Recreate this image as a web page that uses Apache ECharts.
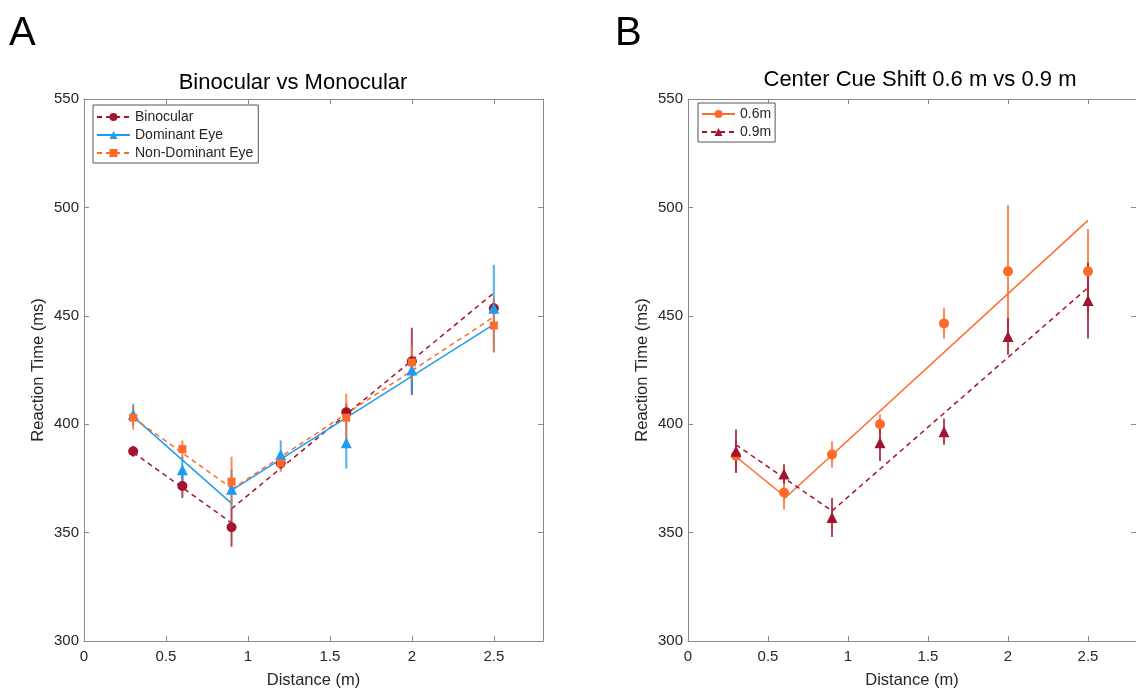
<!DOCTYPE html>
<html>
<head>
<meta charset="utf-8">
<script src="https://cdn.jsdelivr.net/npm/echarts@6/dist/echarts.min.js"></script>
<style>
html,body{margin:0;padding:0;background:#fff;}
#chart{width:1136px;height:694px;}
</style>
</head>
<body>
<div id="chart"></div>
<script>
// ---------- data ----------
const distances = [0.3, 0.6, 0.9, 1.2, 1.6, 2.0, 2.5];
const xTicks = [0, 0.5, 1, 1.5, 2, 2.5];
const yTicks = [300, 350, 400, 450, 500, 550];

// Panel A
const binocularMean = [387.5, 371.5, 352.5, 382, 405.5, 429, 453.5];
const binocularErr = [2.5, 5.5, 9, 3, 4, 15.5, 3];
const dominantMean = [404.5, 379, 370, 386, 391.5, 425, 453.5];
const dominantErr = [5, 6, 9, 6.5, 12, 11, 20];
const nonDominantMean = [403, 388.5, 373.5, 382, 403, 428.5, 445.5];
const nonDominantErr = [5.5, 4, 11.5, 4, 11, 8, 12.5];

// piecewise fit lines (left segment 0.3-0.9, right segment 0.9-2.5)
const fitLeftXA = [0.3, 0.9];
const fitRightXA = [0.9, 2.5];
const binocularFitLeft = [387, 354.5];
const binocularFitRight = [361, 460.5];
const dominantFitLeft = [403.5, 363.5];
const dominantFitRight = [369.5, 446];
const nonDominantFitLeft = [403, 370.5];
const nonDominantFitRight = [370, 449.5];

// Panel B
const shift06Mean = [385.5, 368.5, 386, 400, 446.5, 470.5, 470.5];
const shift06Err = [7, 8, 6, 4.5, 7, 30.5, 19.5];
const shift09Mean = [387.5, 377, 357, 391.5, 396.5, 440.5, 457];
const shift09Err = [10, 4.5, 9, 8.5, 6, 8.5, 17.5];

const fitLeftX06 = [0.3, 0.6];
const fitRightX06 = [0.6, 2.5];
const shift06FitLeft = [385, 367];
const shift06FitRight = [365.5, 494];
const fitLeftX09 = [0.3, 0.9];
const fitRightX09 = [0.9, 2.5];
const shift09FitLeft = [390.5, 360];
const shift09FitRight = [360, 463];

// ---------- styles ----------
const RED = '#A2142F';
const BLUE = '#1E9DF0';
const ORANGE = '#FF6A2B';
const AXIS = '#8a8a8a';
const TXT = '#262626';
const FONT = 'Liberation Sans, Arial, sans-serif';

function pairs(xs, ys) { return xs.map((x, i) => [x, ys[i]]); }
function errData(xs, m, e) { return xs.map((x, i) => [x, m[i] - e[i], m[i] + e[i]]); }

function fitSeries(name, gi, xsL, yL, xsR, yR, color, dashed, symbol) {
  const ls = { color: color, width: 1.5, type: dashed ? [5, 4] : 'solid' };
  const base = {
    type: 'line', name: name, xAxisIndex: gi * 2, yAxisIndex: gi * 2,
    symbol: symbol, symbolSize: 9, showSymbol: false, lineStyle: ls,
    itemStyle: { color: color }, silent: true, animation: false, z: 2
  };
  return [
    Object.assign({}, base, { data: pairs(xsL, yL) }),
    Object.assign({}, base, { data: pairs(xsR, yR) })
  ];
}
function errSeries(name, gi, m, e, color) {
  return {
    type: 'custom', name: name, xAxisIndex: gi * 2, yAxisIndex: gi * 2,
    data: errData(distances, m, e), encode: { x: 0, y: [1, 2] },
    animation: false, silent: true, z: 3,
    renderItem: function (params, api) {
      const p1 = api.coord([api.value(0), api.value(1)]);
      const p2 = api.coord([api.value(0), api.value(2)]);
      return { type: 'line', shape: { x1: p1[0], y1: p1[1], x2: p2[0], y2: p2[1] },
        style: { stroke: color, lineWidth: 2, opacity: 0.8 } };
    }
  };
}
function markSeries(name, gi, m, color, symbol, size) {
  return {
    type: 'scatter', name: name, xAxisIndex: gi * 2, yAxisIndex: gi * 2,
    data: pairs(distances, m), symbol: symbol, symbolSize: size,
    itemStyle: { color: color, opacity: 1 }, animation: false, silent: true, z: 4
  };
}

function xAx(gi, top) {
  return {
    type: 'value', gridIndex: gi, min: 0, max: 2.8, interval: 0.5,
    position: top ? 'top' : 'bottom',
    name: top ? '' : 'Distance (m)', nameLocation: 'middle', nameGap: 31,
    nameTextStyle: { fontSize: 16.5, color: TXT, fontFamily: FONT },
    axisLine: { show: true, onZero: false, lineStyle: { color: AXIS, width: 1 } },
    axisTick: { show: true, inside: true, length: 5, lineStyle: { color: AXIS } },
    axisLabel: { show: !top, fontSize: 15, color: TXT, fontFamily: FONT, margin: 8,
      showMaxLabel: false,
      formatter: function (v) { return xTicks.indexOf(Math.round(v * 10) / 10) >= 0 ? String(v) : ''; } },
    splitLine: { show: false }
  };
}
function yAx(gi, right) {
  return {
    type: 'value', gridIndex: gi, min: 300, max: 550, interval: 50,
    position: right ? 'right' : 'left',
    name: right ? '' : 'Reaction Time (ms)', nameLocation: 'middle', nameGap: 37,
    nameTextStyle: { fontSize: 16.5, color: TXT, fontFamily: FONT },
    axisLine: { show: true, onZero: false, lineStyle: { color: AXIS, width: 1 } },
    axisTick: { show: true, inside: true, length: 5, lineStyle: { color: AXIS } },
    axisLabel: { show: !right, fontSize: 15, color: TXT, fontFamily: FONT, margin: 5,
      formatter: function (v) { return yTicks.indexOf(v) >= 0 ? String(v) : ''; } },
    splitLine: { show: false }
  };
}

const series = [].concat(
  fitSeries('Binocular', 0, fitLeftXA, binocularFitLeft, fitRightXA, binocularFitRight, RED, true, 'circle'),
  fitSeries('Dominant Eye', 0, fitLeftXA, dominantFitLeft, fitRightXA, dominantFitRight, BLUE, false, 'triangle'),
  fitSeries('Non-Dominant Eye', 0, fitLeftXA, nonDominantFitLeft, fitRightXA, nonDominantFitRight, ORANGE, true, 'rect'),
  [errSeries('Binocular', 0, binocularMean, binocularErr, RED),
   markSeries('Binocular', 0, binocularMean, RED, 'circle', 10),
   errSeries('Dominant Eye', 0, dominantMean, dominantErr, BLUE),
   markSeries('Dominant Eye', 0, dominantMean, BLUE, 'triangle', 11),
   errSeries('Non-Dominant Eye', 0, nonDominantMean, nonDominantErr, ORANGE),
   markSeries('Non-Dominant Eye', 0, nonDominantMean, ORANGE, 'rect', 8)],
  fitSeries('0.6m', 1, fitLeftX06, shift06FitLeft, fitRightX06, shift06FitRight, ORANGE, false, 'circle'),
  fitSeries('0.9m', 1, fitLeftX09, shift09FitLeft, fitRightX09, shift09FitRight, RED, true, 'triangle'),
  [errSeries('0.6m', 1, shift06Mean, shift06Err, ORANGE),
   markSeries('0.6m', 1, shift06Mean, ORANGE, 'circle', 10),
   errSeries('0.9m', 1, shift09Mean, shift09Err, RED),
   markSeries('0.9m', 1, shift09Mean, RED, 'triangle', 11)]
);

const legendCommon = {
  orient: 'vertical', backgroundColor: '#fff', borderColor: '#555', borderWidth: 1,
  borderRadius: 0, itemWidth: 33, itemHeight: 10, itemGap: 4, selectedMode: false,
  textStyle: { fontSize: 14, color: TXT, fontFamily: FONT, lineHeight: 14 }
};

const option = {
  animation: false,
  backgroundColor: '#fff',
  textStyle: { fontFamily: FONT },
  title: [
    { text: 'A', left: 9, top: 14, padding: 0, textStyle: { fontSize: 40, fontWeight: 'normal', color: '#000', fontFamily: FONT } },
    { text: 'B', left: 615, top: 14, padding: 0, textStyle: { fontSize: 40, fontWeight: 'normal', color: '#000', fontFamily: FONT } },
    { text: 'Binocular vs Monocular', left: 293, textAlign: 'center', top: 72, padding: 0, textStyle: { fontSize: 22, fontWeight: 'normal', color: '#000', fontFamily: FONT } },
    { text: 'Center Cue Shift 0.6 m vs 0.9 m', left: 920, textAlign: 'center', top: 69, padding: 0, textStyle: { fontSize: 22, fontWeight: 'normal', color: '#000', fontFamily: FONT } }
  ],
  legend: [
    Object.assign({}, legendCommon, { left: 93, top: 105, padding: [5, 5, 3, 3],
      data: ['Binocular', 'Dominant Eye', 'Non-Dominant Eye'] }),
    Object.assign({}, legendCommon, { left: 698, top: 103, padding: [4, 4, 3, 3],
      data: ['0.6m', '0.9m'] })
  ],
  grid: [
    { left: 84, top: 99, width: 459, height: 546, containLabel: false },
    { left: 688, top: 99, width: 461, height: 546, containLabel: false }
  ],
  xAxis: [xAx(0, false), xAx(0, true), xAx(1, false), xAx(1, true)],
  yAxis: [yAx(0, false), yAx(0, true), yAx(1, false), yAx(1, true)],
  series: series
};

const chart = echarts.init(document.getElementById('chart'), null, { renderer: 'canvas' });
chart.setOption(option);
</script>
</body>
</html>
